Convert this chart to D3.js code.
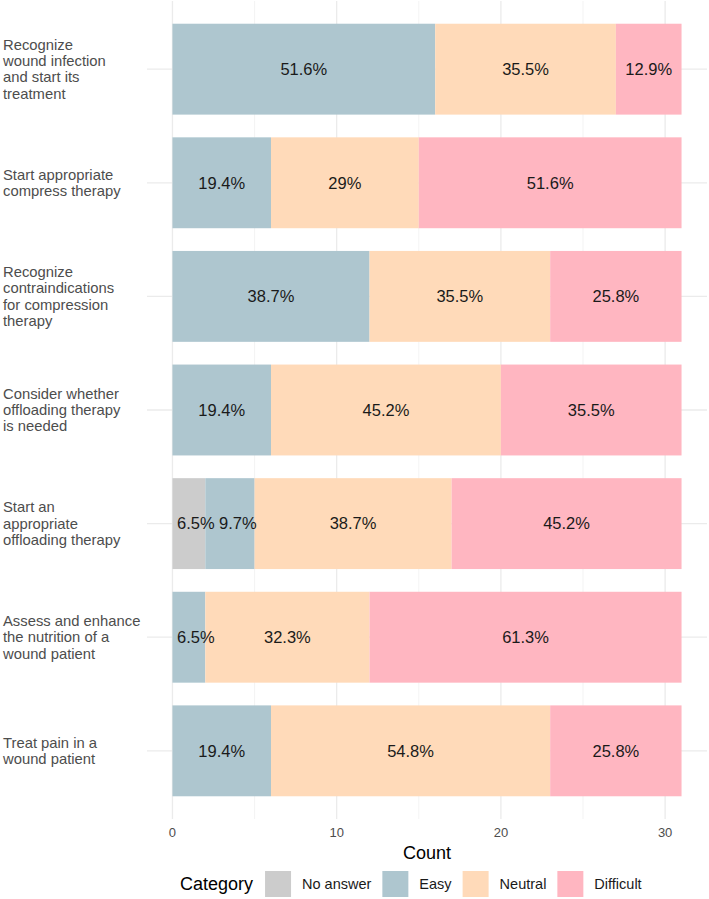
<!DOCTYPE html>
<html>
<head>
<meta charset="utf-8">
<script src="https://cdn.jsdelivr.net/npm/d3@7"></script>
<style>
  body { margin: 0; background: #fff; }
  svg text { font-family: "Liberation Sans", Arial, sans-serif; }
</style>
</head>
<body>
<div id="chart"></div>
<script>
// survey: how easy is it to ... (n = 31)
var categories = [
  "Recognize wound infection and start its treatment",
  "Start appropriate compress therapy",
  "Recognize contraindications for compression therapy",
  "Consider whether offloading therapy is needed",
  "Start an appropriate offloading therapy",
  "Assess and enhance the nutrition of a wound patient",
  "Treat pain in a wound patient"
];
var labelLines = [
  ["Recognize", "wound infection", "and start its", "treatment"],
  ["Start appropriate", "compress therapy"],
  ["Recognize", "contraindications", "for compression", "therapy"],
  ["Consider whether", "offloading therapy", "is needed"],
  ["Start an", "appropriate", "offloading therapy"],
  ["Assess and enhance", "the nutrition of a", "wound patient"],
  ["Treat pain in a", "wound patient"]
];
var levels = ["No answer", "Easy", "Neutral", "Difficult"];
var noAnswer  = [0, 0, 0, 0, 2, 0, 0];
var easy      = [16, 6, 12, 6, 3, 2, 6];
var neutral   = [11, 9, 11, 14, 12, 10, 17];
var difficult = [4, 16, 8, 11, 14, 19, 8];
var xTicks = [0, 10, 20, 30];
var xMinor = [5, 15, 25];
var colors = ["#CCCCCC", "#AEC6CF", "#FFDAB9", "#FFB6C1"];

var W = 709, H = 899;
var panel = {left: 147, right: 707, top: 1, bottom: 819};

var rows = categories.map(function(c, i) {
  return {cat: c, "No answer": noAnswer[i], "Easy": easy[i], "Neutral": neutral[i], "Difficult": difficult[i]};
});
var total = d3.sum(levels, function(k) { return rows[0][k]; });

var svg = d3.select("#chart").append("svg")
  .attr("width", W)
  .attr("height", H);

var xMax = total;
var pad = xMax * 0.05;
var x = d3.scaleLinear()
  .domain([-pad, xMax + pad])
  .range([panel.left, panel.right]);

var y = d3.scaleBand()
  .domain(categories)
  .range([panel.top, panel.bottom])
  .paddingInner(0.2)
  .paddingOuter(0.2);

var color = d3.scaleOrdinal().domain(levels).range(colors);

// grid
var grid = svg.append("g");
grid.selectAll(".minor").data(xMinor).enter().append("line")
  .attr("x1", function(d) { return x(d); })
  .attr("x2", function(d) { return x(d); })
  .attr("y1", panel.top).attr("y2", panel.bottom)
  .style("stroke", "#F0F0F0").style("stroke-width", 0.8);
grid.selectAll(".major").data(xTicks).enter().append("line")
  .attr("x1", function(d) { return x(d); })
  .attr("x2", function(d) { return x(d); })
  .attr("y1", panel.top).attr("y2", panel.bottom)
  .style("stroke", "#EBEBEB").style("stroke-width", 1.3);
grid.selectAll(".hline").data(categories).enter().append("line")
  .attr("x1", panel.left).attr("x2", panel.right)
  .attr("y1", function(d) { return y(d) + y.bandwidth() / 2; })
  .attr("y2", function(d) { return y(d) + y.bandwidth() / 2; })
  .style("stroke", "#EBEBEB").style("stroke-width", 1.3);

// bars
var series = d3.stack().keys(levels)(rows);

var layers = svg.append("g").selectAll("g")
  .data(series)
  .enter().append("g")
  .style("fill", function(d) { return color(d.key); });

layers.selectAll("rect")
  .data(function(d) { return d; })
  .enter().append("rect")
  .attr("x", function(d) { return x(d[0]); })
  .attr("width", function(d) { return x(d[1]) - x(d[0]); })
  .attr("y", function(d) { return y(d.data.cat); })
  .attr("height", y.bandwidth());

// percentage labels
function pct(v) {
  return String(+(v / total * 100).toFixed(1)) + "%";
}
var labels = svg.append("g");
rows.forEach(function(r, i) {
  var prevEnd = -Infinity;
  series.forEach(function(s) {
    var seg = s[i];
    var v = seg[1] - seg[0];
    if (v <= 0) return;
    var cy = y(r.cat) + y.bandwidth() / 2;
    var t = labels.append("text")
      .attr("y", cy)
      .attr("dy", "0.35em")
      .style("font-size", "16.5px")
      .style("fill", "#1A1A1A")
      .text(pct(v));
    var tw = t.node().getComputedTextLength();
    var x0 = x(seg[0]);
    var cx = (x(seg[0]) + x(seg[1])) / 2;
    var left = cx - tw / 2;
    // narrow segments: push the label right so it does not collide
    if (left < x0 || left < prevEnd + 4.5) {
      left = Math.max(x0, prevEnd) + 4.5;
    }
    t.attr("x", left).attr("text-anchor", "start");
    prevEnd = left + tw;
  });
});

// y axis labels
var yl = svg.append("g");
categories.forEach(function(c, i) {
  var lines = labelLines[i];
  var cy = y(c) + y.bandwidth() / 2;
  var lh = 16.3;
  var t = yl.append("text")
    .attr("x", 3)
    .style("font-size", "14.8px")
    .style("fill", "#4D4D4D");
  lines.forEach(function(ln, j) {
    t.append("tspan")
      .attr("x", 3)
      .attr("y", cy + (j - (lines.length - 1) / 2) * lh)
      .attr("dy", "0.35em")
      .text(ln);
  });
});

// x axis
svg.append("g").selectAll("text")
  .data(xTicks)
  .enter().append("text")
  .attr("x", function(d) { return x(d); })
  .attr("y", 832)
  .attr("dy", "0.35em")
  .attr("text-anchor", "middle")
  .style("font-size", "13px")
  .style("fill", "#4D4D4D")
  .text(function(d) { return d; });

svg.append("text")
  .attr("x", (panel.left + panel.right) / 2)
  .attr("y", 853)
  .attr("dy", "0.35em")
  .attr("text-anchor", "middle")
  .style("font-size", "18px")
  .style("fill", "#000")
  .text("Count");

// legend
var lg = svg.append("g");
var ly = 884, key = 26;
var lx = 180;
var title = lg.append("text")
  .attr("x", lx).attr("y", ly).attr("dy", "0.35em")
  .style("font-size", "18px")
  .text("Category");
lx += title.node().getComputedTextLength() + 12;
levels.forEach(function(k) {
  lg.append("rect")
    .attr("x", lx).attr("y", ly - key / 2)
    .attr("width", key).attr("height", key)
    .style("fill", color(k));
  lx += key + 11;
  var t = lg.append("text")
    .attr("x", lx).attr("y", ly).attr("dy", "0.35em")
    .style("font-size", "14.5px")
    .style("fill", "#1A1A1A")
    .text(k);
  lx += t.node().getComputedTextLength() + 11;
});
</script>
</body>
</html>
